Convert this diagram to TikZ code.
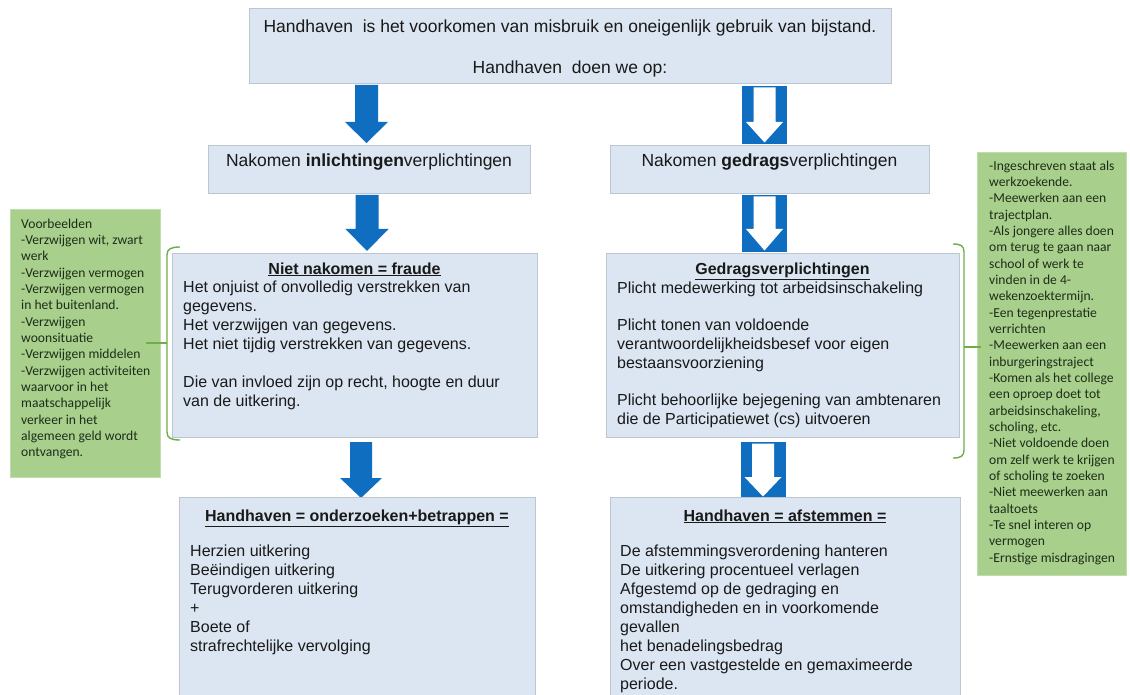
\documentclass[tikz,border=0pt]{standalone}
\usepackage{fontspec}
\setmainfont{Liberation Sans}
\newfontfamily\greenfont{Carlito}
\definecolor{boxfill}{RGB}{220,230,242}
\definecolor{boxline}{RGB}{188,197,208}
\definecolor{arrowblue}{RGB}{16,110,192}
\definecolor{greenfill}{RGB}{168,208,140}
\definecolor{greenline}{RGB}{192,222,172}
\definecolor{bracketgreen}{RGB}{112,173,71}
\definecolor{txt}{RGB}{25,25,25}
\definecolor{gtxt}{RGB}{30,45,25}
\newcommand\solidarr[6]{%
  \fill[arrowblue] (#1-#5,#2) -- (#1+#5,#2) -- (#1+#5,#3) -- (#1+#6,#3) -- (#1,#4) -- (#1-#6,#3) -- (#1-#5,#3) -- cycle;}
\newcommand\hollowarr[4]{%
  \fill[arrowblue] (#1-22.5,#2) rectangle (#1+22.5,#4);
  \fill[white] (#1-11,#2+1.5) -- (#1+11,#2+1.5) -- (#1+11,#3) -- (#1+18.5,#3) -- (#1,#4-1.5) -- (#1-18.5,#3) -- (#1-11,#3) -- cycle;}
\tikzset{
  bluebox/.style={draw=boxline, fill=boxfill, line width=0.8pt, inner sep=0pt, anchor=north west},
  greenbox/.style={draw=greenline, fill=greenfill, line width=0.8pt, inner sep=0pt, anchor=north west},
  bigline/.style={anchor=base, inner sep=0pt, text=txt, font=\fontsize{17.5}{21}\selectfont},
  titletext/.style={anchor=base, inner sep=0pt, text=txt, font=\fontsize{16}{19}\selectfont\bfseries},
  bodytext/.style={anchor=north west, inner sep=0pt, align=left, text=txt, font=\fontsize{16}{19}\selectfont},
  greentext/.style={anchor=north west, inner sep=0pt, align=left, text=gtxt, font=\greenfont\fontsize{13.6}{16.33}\selectfont},
  bracketline/.style={draw=bracketgreen, line width=1.4pt},
}
\begin{document}
\begin{tikzpicture}[x=1pt,y=-1pt]
\useasboundingbox (0,0) rectangle (1130,695);
\fill[white] (0,0) rectangle (1130,695);

% top box
\node[bluebox, minimum width=642, minimum height=75] (top) at (249,8) {};
\node[bigline] (top1) at (570,33) {Handhaven\ \ is het voorkomen van misbruik en oneigenlijk gebruik van bijstand.};
\node[bigline] (top2) at (570,74) {Handhaven\ \ doen we op:};

% arrows row 1
\solidarr{366.5}{85}{122}{143}{11.5}{21.5}
\hollowarr{764.5}{86}{122}{144}

% middle boxes
\node[bluebox, minimum width=322, minimum height=48] (inl) at (208,145) {};
\node[bigline] (inlt) at (369,167) {Nakomen \textbf{inlichtingen}verplichtingen};
\node[bluebox, minimum width=319, minimum height=48] (ged) at (610,145) {};
\node[bigline] (gedt) at (769.5,167) {Nakomen \textbf{gedrags}verplichtingen};

% arrows row 2
\solidarr{367}{195}{229}{251}{11.5}{21.5}
\hollowarr{764.5}{195}{229}{252}

% second row boxes
\node[bluebox, minimum width=365, minimum height=184] (fraude) at (172,253) {};
\node[titletext] (fraudet) at (354.5,274) {\underline{Niet nakomen = fraude}};
\node[bodytext] (fraudeb) at (183,280) {\rule{0pt}{12pt}Het onjuist of onvolledig verstrekken van\\gegevens.\\Het verzwijgen van gegevens.\\Het niet tijdig verstrekken van gegevens.\\[19pt]Die van invloed zijn op recht, hoogte en duur\\van de uitkering.};

\node[bluebox, minimum width=353, minimum height=184] (gedr) at (606,253) {};
\node[titletext] (gedrt) at (782.5,274) {\underline{Gedragsverplichtingen}};
\node[bodytext] (gedrb) at (617,281) {\rule{0pt}{12pt}Plicht medewerking tot arbeidsinschakeling\\[18pt]Plicht tonen van voldoende\\verantwoordelijkheidsbesef voor eigen\\bestaansvoorziening\\[18pt]Plicht behoorlijke bejegening van ambtenaren\\die de Participatiewet (cs) uitvoeren};

% arrows row 3
\solidarr{361}{442}{478}{498}{11}{21}
\hollowarr{763}{442}{477}{498}

% bottom boxes
\node[bluebox, minimum width=356, minimum height=210] (betr) at (179,497) {};
\node[titletext] (betrt) at (357,521) {\underline{Handhaven = onderzoeken+betrappen =}};
\node[bodytext] (betrb) at (190,544) {\rule{0pt}{12pt}Herzien uitkering\\Beëindigen uitkering\\Terugvorderen uitkering\\+\\Boete of\\strafrechtelijke vervolging};

\node[bluebox, minimum width=350, minimum height=210] (afst) at (610,497) {};
\node[titletext] (afstt) at (785,521) {\underline{Handhaven = afstemmen =}};
\node[bodytext] (afstb) at (620,544) {\rule{0pt}{12pt}De afstemmingsverordening hanteren\\De uitkering procentueel verlagen\\Afgestemd op de gedraging en\\omstandigheden en in voorkomende\\gevallen\\het benadelingsbedrag\\Over een vastgestelde en gemaximeerde\\periode.};

% green boxes
\node[greenbox, minimum width=150, minimum height=268] (gl) at (10,209) {};
\node[greentext] (glt) at (21,217) {\rule{0pt}{11pt}Voorbeelden\\-Verzwijgen wit, zwart\\werk\\-Verzwijgen vermogen\\-Verzwijgen vermogen\\in het buitenland.\\-Verzwijgen\\woonsituatie\\-Verzwijgen middelen\\-Verzwijgen activiteiten\\waarvoor in het\\maatschappelijk\\verkeer in het\\algemeen geld wordt\\ontvangen.};

\node[greenbox, minimum width=149, minimum height=423] (gr) at (977,152) {};
\node[greentext] (grt) at (989,159) {\rule{0pt}{11pt}-Ingeschreven staat als\\werkzoekende.\\-Meewerken aan een\\trajectplan.\\-Als jongere alles doen\\om terug te gaan naar\\school of werk te\\vinden in de 4-\\wekenzoektermijn.\\-Een tegenprestatie\\verrichten\\-Meewerken aan een\\inburgeringstraject\\-Komen als het college\\een oproep doet tot\\arbeidsinschakeling,\\scholing, etc.\\-Niet voldoende doen\\om zelf werk te krijgen\\of scholing te zoeken\\-Niet meewerken aan\\taaltoets\\-Te snel interen op\\vermogen\\-Ernstige misdragingen};

% brackets
\coordinate (lb) at (167,343);
\draw[bracketline] (180,247) .. controls (171,247) and (167,249) .. (167,255) -- (167,432) .. controls (167,438) and (171,440) .. (180,440);
\draw[bracketline] ([xshift=-15pt]gl.east |- lb) -- (lb);
\coordinate (rb) at (964,347);
\draw[bracketline] (953,244) .. controls (961,244) and (964,246) .. (964,252) -- (964,450) .. controls (964,456) and (961,458) .. (953,458);
\draw[bracketline] (rb) -- ([xshift=4pt]gr.west |- rb);
\end{tikzpicture}
\end{document}
